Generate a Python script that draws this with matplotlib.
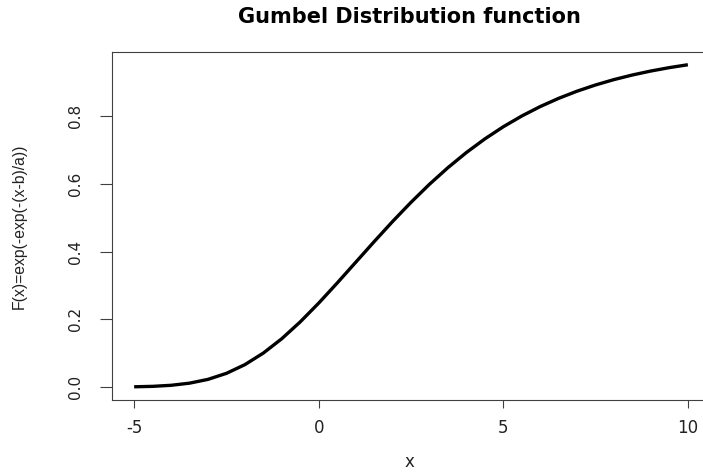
import matplotlib
matplotlib.use("Agg")
import matplotlib.pyplot as plt

# Gumbel CDF, x from -5 to 10 in steps of 0.5
x_vals = [-5.0, -4.5, -4.0, -3.5, -3.0, -2.5, -2.0, -1.5, -1.0, -0.5,
          0.0, 0.5, 1.0, 1.5, 2.0, 2.5, 3.0, 3.5, 4.0, 4.5,
          5.0, 5.5, 6.0, 6.5, 7.0, 7.5, 8.0, 8.5, 9.0, 9.5, 10.0]
f_vals = [0.0006, 0.0019, 0.0050, 0.0113, 0.0225, 0.0403, 0.0660, 0.1002, 0.1426, 0.1923,
          0.2477, 0.3069, 0.3679, 0.4289, 0.4885, 0.5452, 0.5985, 0.6475, 0.6922, 0.7324,
          0.7683, 0.8000, 0.8279, 0.8522, 0.8734, 0.8917, 0.9076, 0.9212, 0.9329, 0.9429, 0.9514]

x_ticks = [-5, 0, 5, 10]
y_ticks = [0.0, 0.2, 0.4, 0.6, 0.8]
y_ticklabels = ["0.0", "0.2", "0.4", "0.6", "0.8"]

W, H = 703, 473
fig = plt.figure(figsize=(W / 100, H / 100), dpi=100)
fig.patch.set_facecolor("white")

# plot region runs past the right edge of the canvas
ax = fig.add_axes([112 / W, 73 / H, 598 / W, 348 / H])
ax.plot(x_vals, f_vals, color="black", lw=2.4, solid_capstyle="butt", zorder=3)
ax.set_xlim(-5.6, 10.6)
ax.set_ylim(-0.0384, 0.989)

for s in ax.spines.values():
    s.set_color("#404040")
    s.set_linewidth(0.8)

ax.set_xticks(x_ticks)
ax.set_xticklabels([str(t) for t in x_ticks], fontsize=12, color="#222222")
ax.tick_params(axis="x", length=6, width=0.8, color="#404040", pad=8)

ax.set_yticks(y_ticks)
ax.set_yticklabels(y_ticklabels, fontsize=11, color="#222222",
                   rotation=90, va="center")
ax.tick_params(axis="y", length=8.6, width=0.8, color="#404040", pad=12)

ax.set_xlabel("x", fontsize=12, color="#222222")
ax.xaxis.set_label_coords((409 - 112) / 598, (400 - 462) / 348)
ax.xaxis.label.set_va("center")

ax.set_ylabel("F(x)=exp(-exp(-(x-b)/a))", fontsize=11.3,
              family="Liberation Sans", color="#222222")
ax.yaxis.set_label_coords((19 - 112) / 598, 0.5)
ax.yaxis.label.set_va("center")

fig.text(409 / W, 1 - 17 / H, "Gumbel Distribution function",
         ha="center", va="center", fontsize=15, fontweight="bold")

fig.savefig("out.png", dpi=100)
